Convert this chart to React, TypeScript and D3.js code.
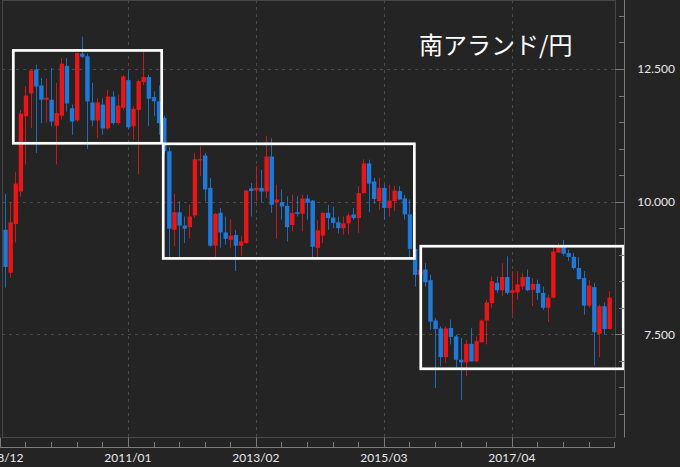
import React from "react";
import * as d3 from "d3";

// Monthly candles, 2009/01 .. 2018/11 (ZAR/JPY)
const firstMonth = new Date(2009, 0, 1);
const axisStart = new Date(2008, 11, 1);

const opens = [
  9.47, 8.66, 9.58, 10.19, 11.61, 12.04, 12.49, 12.19, 11.92, 11.92,
  11.43, 11.62, 12.56, 11.76, 11.53, 12.79, 12.74, 11.87, 11.53, 11.83,
  11.38, 11.98, 11.48, 11.77, 12.29, 11.42, 11.73, 12.25, 12.35, 11.97,
  11.89, 11.58, 10.95, 9.47, 9.80, 9.55, 9.52, 9.74, 10.78, 10.87,
  10.26, 9.17, 9.79, 9.42, 9.28, 9.37, 9.17, 9.22, 10.25, 10.21,
  10.26, 10.19, 10.85, 9.99, 9.99, 9.92, 9.56, 9.80, 9.77, 10.06,
  10.02, 9.13, 9.36, 9.79, 9.70, 9.61, 9.50, 9.59, 9.76, 9.69,
  10.16, 10.72, 10.38, 10.01, 10.26, 9.88, 10.01, 10.20, 10.06, 9.76,
  9.11, 8.62, 8.72, 8.52, 7.76, 7.61, 7.07, 7.62, 7.46, 7.02,
  6.97, 7.32, 6.99, 7.35, 7.76, 8.09, 8.47, 8.33, 8.58, 8.28,
  8.29, 8.40, 8.58, 8.34, 8.45, 8.28, 8.00, 8.19, 9.04, 9.16,
  9.03, 8.96, 8.75, 8.56, 8.04, 8.39, 7.51, 8.03, 7.60,
];
const highs = [
  10.15, 10.0, 10.56, 11.73, 12.17, 12.5, 12.58, 12.33, 12.32, 12.52,
  12.24, 12.71, 12.71, 11.83, 12.81, 13.11, 12.79, 12.24, 11.95, 11.95,
  12.11, 12.08, 12.02, 12.39, 12.46, 11.8, 12.3, 12.83, 12.39, 12.08,
  12.19, 11.62, 11.03, 10.15, 10.01, 9.72, 9.94, 10.92, 11.04, 10.92,
  10.45, 9.79, 9.88, 9.72, 9.67, 9.47, 9.35, 10.22, 10.35, 10.67,
  10.6, 11.24, 11.2, 10.32, 10.23, 10.1, 10.13, 10.1, 10.13, 10.13,
  10.03, 9.66, 9.8, 9.94, 9.91, 9.72, 9.72, 9.79, 9.88, 10.29,
  10.8, 10.79, 10.45, 10.45, 10.32, 10.32, 10.3, 10.29, 10.13, 10.04,
  9.12, 8.76, 8.84, 8.62, 7.81, 7.65, 7.65, 7.78, 7.49, 7.43,
  7.4, 7.62, 7.46, 7.78, 8.15, 8.59, 8.59, 8.84, 8.97, 8.69,
  8.69, 8.66, 8.72, 8.56, 8.53, 8.4, 8.25, 9.16, 9.22, 9.28,
  9.1, 9.03, 8.96, 8.69, 8.52, 8.47, 8.06, 8.1, 8.31,
];
const lows = [
  8.38, 8.57, 9.23, 10.09, 10.7, 11.39, 10.92, 11.48, 11.49, 11.42,
  10.7, 11.55, 11.7, 11.26, 11.51, 12.71, 10.99, 11.42, 11.2, 11.26,
  11.36, 11.45, 11.45, 11.73, 11.36, 11.17, 10.51, 12.2, 11.42, 11.61,
  11.26, 10.9, 8.96, 9.16, 8.96, 9.22, 9.3, 9.7, 10.48, 10.01,
  9.15, 8.96, 9.13, 9.19, 9.13, 8.69, 8.98, 9.21, 9.72, 10.01,
  9.99, 10.07, 9.79, 9.3, 9.66, 9.25, 9.44, 9.72, 9.44, 9.66,
  8.96, 8.96, 9.22, 9.47, 9.5, 9.4, 9.38, 9.38, 9.66, 9.41,
  10.15, 9.8, 9.96, 9.85, 9.66, 9.72, 9.82, 10.03, 9.66, 8.91,
  8.4, 8.59, 8.4, 7.59, 6.49, 6.9, 6.96, 7.31, 6.87, 6.26,
  6.71, 6.99, 6.98, 7.35, 7.31, 8.0, 8.28, 8.22, 8.25, 7.87,
  8.15, 8.34, 8.31, 8.03, 8.15, 7.96, 7.73, 8.18, 9.04, 8.98,
  8.88, 8.72, 8.53, 7.87, 8.0, 6.91, 7.07, 7.49, 7.6,
];
const closes = [
  8.77, 9.61, 10.34, 11.66, 12.0, 12.47, 12.17, 11.92, 11.96, 11.51,
  11.67, 12.6, 11.85, 11.51, 12.8, 12.73, 11.89, 11.53, 11.87, 11.38,
  11.98, 11.48, 11.81, 12.36, 11.4, 11.75, 12.27, 12.35, 11.94, 11.89,
  11.48, 10.95, 9.49, 9.8, 9.55, 9.49, 9.72, 10.8, 10.8, 10.23,
  9.17, 9.77, 9.42, 9.3, 9.36, 9.17, 9.25, 10.21, 10.2, 10.26,
  10.19, 10.85, 9.94, 10.04, 9.91, 9.52, 9.79, 9.77, 10.06, 9.98,
  9.15, 9.46, 9.79, 9.69, 9.6, 9.5, 9.59, 9.74, 9.69, 10.16,
  10.72, 10.34, 10.05, 10.26, 9.88, 10.02, 10.21, 10.04, 9.76, 9.11,
  8.62, 8.72, 8.48, 7.74, 7.6, 7.07, 7.61, 7.45, 7.02, 6.97,
  7.32, 6.99, 7.37, 7.76, 8.1, 8.5, 8.33, 8.58, 8.28, 8.33,
  8.44, 8.58, 8.33, 8.45, 8.28, 8.0, 8.19, 9.06, 9.15, 9.02,
  8.96, 8.75, 8.54, 8.04, 8.42, 7.54, 8.03, 7.6, 8.19,
];

// Y tick labels
const yLabelValues = [7.5, 10, 12.5];
// Annotation boxes: [start month offset, end month offset, high price, low price]
const boxMonthStart = [2.62, 31.9, 82.2];
const boxMonthEnd = [31.6, 80.95, 121.75];
const boxPriceTop = [12.85, 11.09, 9.16];
const boxPriceBottom = [11.1, 8.93, 6.85];

const title = "南アランド/円";

const W = 680;
const H = 467;
const plotLeft = 2;
const plotRight = 615;
const plotTop = 0.5;
const plotBottom = 437.5;
const xAxisY = 447.5;
const yAxisX = 624.5;

const RED = "#e81616";
const BLUE = "#1e79d8";
const BG = "#242424";
const GRID = "#4a4a4a";
const AXIS = "#7a7a7a";

export default function App() {
  const x = d3.scaleLinear().domain([0, 120]).range([-0.1, 614.3]);
  const y = d3.scaleLinear().domain([7.5, 12.5]).range([334.3, 69]);
  const monthIdx = (d: Date) => d3.timeMonth.count(axisStart, d);
  const months = opens.map((_, i) => d3.timeMonth.offset(firstMonth, i));
  const fmt = d3.timeFormat("%Y/%m");
  const xTicks = d3.range(0, 121, 5);
  const yTicks = d3.range(6, 13.51, 0.5);
  const bw = 4.4;

  return (
    <svg
      width={W}
      height={H}
      style={{ position: "absolute", left: 0, top: 0, display: "block" }}
      fontFamily="Lato, 'Noto Sans', sans-serif"
    >
      <rect x={0} y={0} width={W} height={H} fill={BG} />
      <defs>
        <clipPath id="plotClip">
          <rect x={plotLeft} y={0} width={plotRight - plotLeft} height={plotBottom} />
        </clipPath>
      </defs>
      {/* frame */}
      <rect
        x={plotLeft + 0.5}
        y={plotTop}
        width={plotRight - plotLeft}
        height={plotBottom - plotTop}
        fill="none"
        stroke="#474747"
        strokeWidth={1}
      />
      {/* grid */}
      {xTicks
        .filter((t) => t % 25 === 0 && t > 0 && t < 120)
        .map((t) => (
          <line
            key={"gx" + t}
            x1={Math.round(x(t)) + 0.5}
            x2={Math.round(x(t)) + 0.5}
            y1={0}
            y2={plotBottom}
            stroke={GRID}
            strokeDasharray="3,4"
          />
        ))}
      {yLabelValues.map((v) => (
        <line
          key={"gy" + v}
          x1={plotLeft}
          x2={plotRight}
          y1={Math.round(y(v)) + 0.5}
          y2={Math.round(y(v)) + 0.5}
          stroke={GRID}
          strokeDasharray="3,4"
        />
      ))}
      {/* candles */}
      <g clipPath="url(#plotClip)">
        {months.map((m, i) => {
          const o = opens[i];
          const c = closes[i];
          const up = c >= o;
          const col = up ? RED : BLUE;
          const cx = x(monthIdx(m));
          const top = y(Math.max(o, c));
          const bot = y(Math.min(o, c));
          return (
            <g key={i}>
              <line
                x1={Math.round(cx) + 0.5}
                x2={Math.round(cx) + 0.5}
                y1={y(highs[i])}
                y2={y(lows[i])}
                stroke={col}
                strokeWidth={1}
                opacity={0.85}
              />
              <rect
                x={cx - bw / 2 + 0.5}
                y={top}
                width={bw}
                height={Math.max(1.2, bot - top)}
                fill={col}
              />
            </g>
          );
        })}
      </g>
      {/* annotation boxes */}
      {boxMonthStart.map((s, i) => (
        <rect
          key={"box" + i}
          x={x(s)}
          y={y(boxPriceTop[i])}
          width={x(boxMonthEnd[i]) - x(s)}
          height={y(boxPriceBottom[i]) - y(boxPriceTop[i])}
          fill="none"
          stroke="#ffffff"
          strokeWidth={2.7}
        />
      ))}
      {/* x axis */}
      <line x1={0} x2={plotRight} y1={xAxisY} y2={xAxisY} stroke={AXIS} />
      {xTicks.map((t) => {
        const major = t % 25 === 0;
        const xx = Math.round(x(t)) + 0.5;
        return (
          <line
            key={"xt" + t}
            x1={xx}
            x2={xx}
            y1={major ? plotBottom : xAxisY - 5.5}
            y2={xAxisY}
            stroke={AXIS}
          />
        );
      })}
      {xTicks
        .filter((t) => t % 25 === 0)
        .map((t) => (
          <text
            key={"xl" + t}
            x={x(t)}
            y={462}
            textAnchor="middle"
            fontSize={12}
            fill="#e8e8e8"
          >
            {fmt(d3.timeMonth.offset(axisStart, t))}
          </text>
        ))}
      {/* y axis */}
      <line x1={yAxisX} x2={yAxisX} y1={0} y2={plotBottom} stroke={AXIS} />
      {yTicks.map((v) => {
        const major = yLabelValues.includes(v);
        const yy = Math.round(y(v)) + 0.5;
        return (
          <line
            key={"yt" + v}
            x1={major ? plotRight : yAxisX - 5.5}
            x2={yAxisX}
            y1={yy}
            y2={yy}
            stroke={AXIS}
          />
        );
      })}
      {yLabelValues.map((v) => (
        <text
          key={"yl" + v}
          x={675}
          y={y(v)}
          dy="0.35em"
          textAnchor="end"
          fontSize={12}
          fill="#e8e8e8"
        >
          {d3.format(".3f")(v)}
        </text>
      ))}
      {/* title */}
      <text
        x={419}
        y={54}
        fontSize={24}
        fill="#ffffff"
        fontFamily="'Noto Sans CJK JP', sans-serif"
      >
        {title}
      </text>
    </svg>
  );
}
